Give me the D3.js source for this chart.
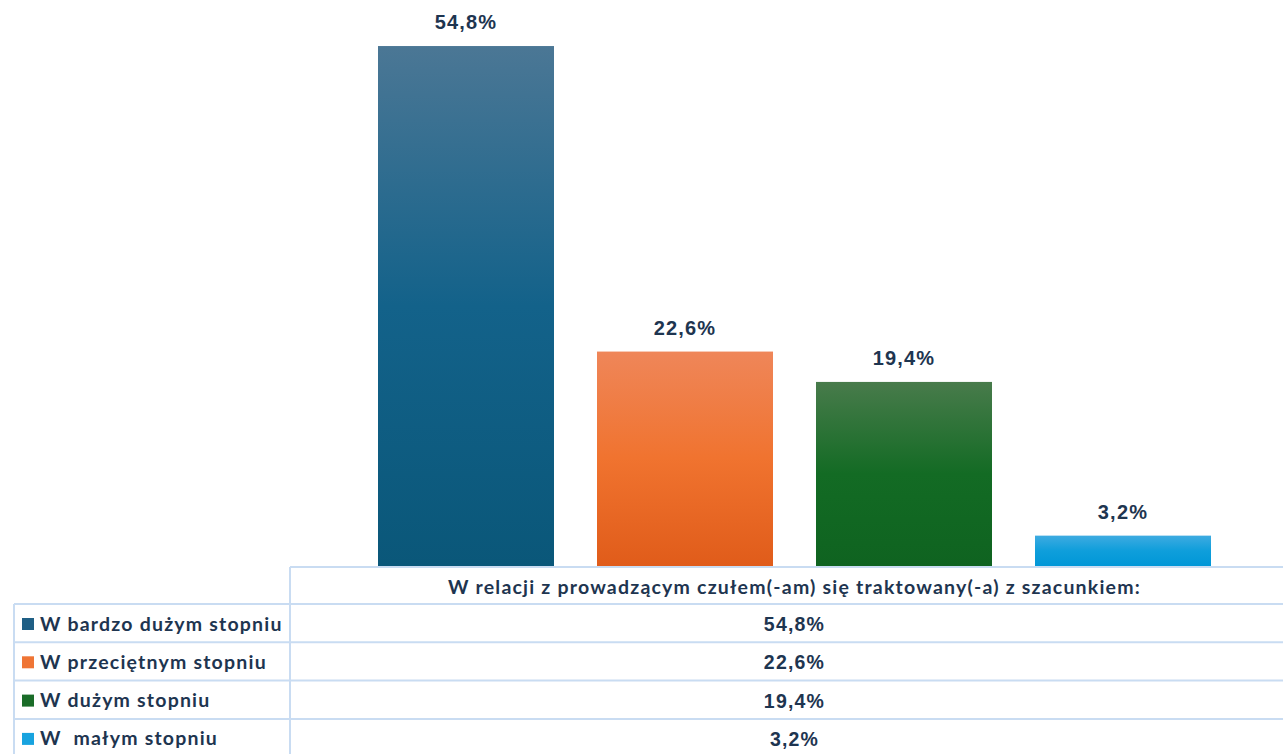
<!DOCTYPE html>
<html>
<head>
<meta charset="utf-8">
<script src="https://cdn.jsdelivr.net/npm/d3@7"></script>
<style>
  body { margin: 0; background: #fff; }
  svg { display: block; }
</style>
</head>
<body>
<svg id="chart" width="1283" height="754"></svg>
<script>
// data
const categories = ["W bardzo dużym stopniu", "W przeciętnym stopniu", "W dużym stopniu", "W  małym stopniu"];
const values = [54.8, 22.6, 19.4, 3.2];
const seriesTitle = "W relacji z prowadzącym czułem(-am) się traktowany(-a) z szacunkiem:";
const barColors = [
  ["#4b7795", "#13628a", "#0a5779"],
  ["#ef8659", "#f0732f", "#e05c1a"],
  ["#487b4b", "#136b24", "#0f6320"],
  ["#3eabe1", "#0f9edb", "#0097d7"]
];
const swatch = ["#1f5f85", "#ef7535", "#1a6c28", "#18a3df"];

const fmt = (v) => v.toFixed(1).replace(".", ",") + "%";

const svg = d3.select("svg#chart");
const plotLeft = 290, plotRight = 1299;
const baseline = 566;
const textColor = "#1e3550";

const x = d3.scaleBand()
  .domain(categories)
  .range([356.5, 1232.5])
  .paddingInner(43 / 219)
  .paddingOuter(21.5 / 219);

const y = d3.scaleLinear().domain([0, 60]).range([baseline, baseline - 569.3]);

// gradients
const defs = svg.append("defs");
barColors.forEach((c, i) => {
  const g = defs.append("linearGradient")
    .attr("id", "grad" + i)
    .attr("x1", 0).attr("y1", 0).attr("x2", 0).attr("y2", 1);
  g.append("stop").attr("offset", "0%").attr("stop-color", c[0]);
  g.append("stop").attr("offset", "50%").attr("stop-color", c[1]);
  g.append("stop").attr("offset", "100%").attr("stop-color", c[2]);
});

// bars
svg.append("g")
  .selectAll("rect")
  .data(values)
  .join("rect")
  .attr("x", (d, i) => x(categories[i]))
  .attr("y", (d) => y(d))
  .attr("width", x.bandwidth())
  .attr("height", (d) => baseline - y(d))
  .attr("fill", (d, i) => `url(#grad${i})`);

// bar labels
svg.append("g")
  .selectAll("text")
  .data(values)
  .join("text")
  .attr("x", (d, i) => x(categories[i]) + x.bandwidth() / 2)
  .attr("y", (d) => y(d) - 17)
  .attr("text-anchor", "middle")
  .attr("font-family", "Liberation Sans, Arial, sans-serif")
  .attr("font-weight", "bold")
  .attr("font-size", 20)
  .attr("letter-spacing", 1.2)
  .attr("fill", textColor)
  .text((d) => fmt(d));

// data table
const lineColor = "#c9dcf2";
const rowTop = 604, rowH = 38.3;
const table = svg.append("g");

table.append("line")
  .attr("x1", plotLeft).attr("x2", 1283)
  .attr("y1", 567).attr("y2", 567)
  .attr("stroke", lineColor).attr("stroke-width", 2);
table.append("line")
  .attr("x1", plotLeft).attr("x2", plotLeft)
  .attr("y1", 567).attr("y2", 754)
  .attr("stroke", lineColor).attr("stroke-width", 2);
table.append("line")
  .attr("x1", 14).attr("x2", 14)
  .attr("y1", rowTop).attr("y2", 754)
  .attr("stroke", lineColor).attr("stroke-width", 2);

categories.forEach((c, i) => {
  table.append("line")
    .attr("x1", 14).attr("x2", 1283)
    .attr("y1", rowTop + i * rowH).attr("y2", rowTop + i * rowH)
    .attr("stroke", lineColor).attr("stroke-width", 2);
});

table.append("text")
  .attr("x", (plotLeft + plotRight) / 2)
  .attr("y", 594)
  .attr("text-anchor", "middle")
  .attr("font-family", "Lato, sans-serif")
  .attr("font-weight", "bold")
  .attr("font-size", 19.5)
  .attr("letter-spacing", 1.2)
  .attr("fill", textColor)
  .text(seriesTitle);

const rows = table.selectAll("g.row")
  .data(categories)
  .join("g")
  .attr("class", "row")
  .attr("transform", (d, i) => `translate(0,${rowTop + i * rowH})`);

rows.append("rect")
  .attr("x", 22).attr("y", 14)
  .attr("width", 12).attr("height", 12)
  .attr("fill", (d, i) => swatch[i]);

rows.append("text")
  .attr("x", 40).attr("y", 26.5)
  .attr("font-family", "Lato, sans-serif")
  .attr("font-weight", "bold")
  .attr("font-size", 19.5)
  .attr("letter-spacing", 1.2)
  .attr("fill", textColor)
  .style("white-space", "pre")
  .text((d) => d);

rows.append("text")
  .attr("x", (plotLeft + plotRight) / 2)
  .attr("y", 27)
  .attr("text-anchor", "middle")
  .attr("font-family", "Liberation Sans, Arial, sans-serif")
  .attr("font-weight", "bold")
  .attr("font-size", 19.5)
  .attr("letter-spacing", 1.2)
  .attr("fill", textColor)
  .text((d, i) => fmt(values[i]));
</script>
</body>
</html>
